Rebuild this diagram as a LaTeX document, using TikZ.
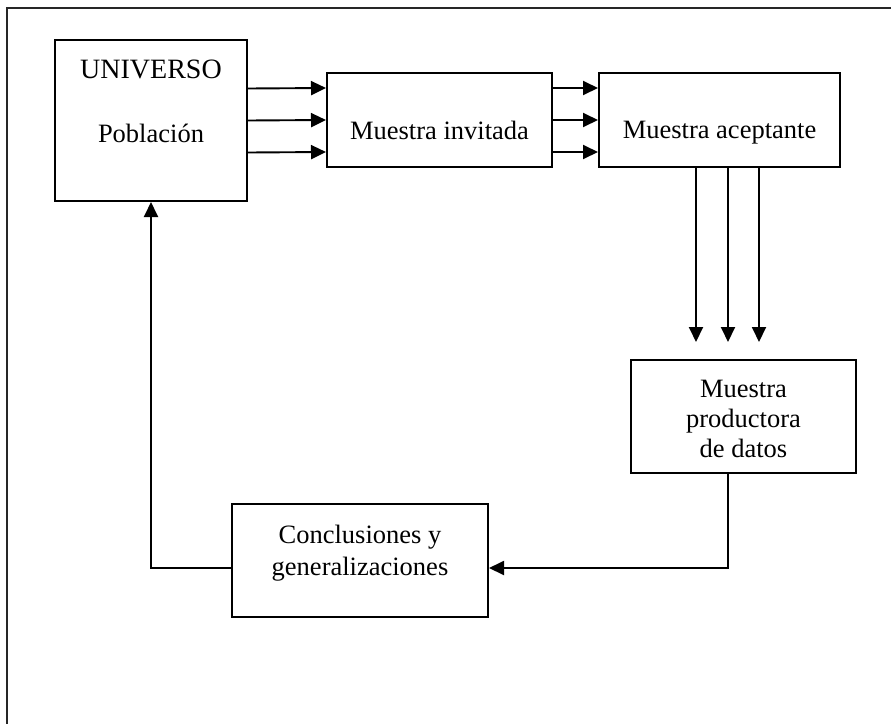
\documentclass[tikz,border=0pt]{standalone}
\usepackage{fontspec}
\setmainfont{Liberation Serif}
\usetikzlibrary{arrows.meta}

\tikzset{
  box/.style={draw=black, line width=2pt, rectangle, inner sep=0pt},
  txt/.style={anchor=base, inner sep=0pt, font=\fontsize{26.5}{30.5}\selectfont},
  arr/.style={draw=black, line width=1.9pt, -{Triangle[length=15pt,width=14pt]}},
  frame/.style={draw=black!85, line width=2.4pt}
}

\begin{document}
\begin{tikzpicture}[x=1pt, y=-1pt]
  % page area
  \clip (0,0) rectangle (891,723);
  \draw[frame] (7,8) rectangle (900,740);

  % boxes
  \node[box, minimum width=192pt, minimum height=161pt] (u)    at (151,120.5) {};
  \node[box, minimum width=225pt, minimum height=94pt]  (inv)  at (439.5,120) {};
  \node[box, minimum width=241pt, minimum height=94pt]  (acc)  at (719.5,120) {};
  \node[box, minimum width=225pt, minimum height=113pt] (prod) at (743.5,416.5) {};
  \node[box, minimum width=256pt, minimum height=113pt] (conc) at (360,560.5) {};

  % texts
  \node[txt, font=\fontsize{28}{32}\selectfont] (t1) at (151,78)  {UNIVERSO};
  \node[txt] (t2) at (151,142) {Población};
  \node[txt] (t3) at (439.5,139) {Muestra invitada};
  \node[txt] (t4) at (719.5,138) {Muestra aceptante};
  \node[txt] (t5) at (743.5,397) {Muestra};
  \node[txt] (t6) at (743.5,427) {productora};
  \node[txt] (t7) at (743.5,457) {de datos};
  \node[txt] (t8) at (360,543) {Conclusiones y};
  \node[txt] (t9) at (360,575) {generalizaciones};

  % parallel flows between the upper boxes
  \foreach \d in {-32,0,32} {
    \draw[arr] ([yshift=\d pt]u.east) -- ([yshift=\d pt]inv.west);
    \draw[arr] ([yshift=\d pt]inv.east) -- ([yshift=\d pt]acc.west);
  }

  % downward flows
  \foreach \x in {696,728,759} {
    \draw[arr] (acc.south -| \x,0) -- ([yshift=17pt]prod.north -| \x,0);
  }

  % feedback loop
  \draw[arr] (prod.south -| 728,0) |- ([yshift=-7.5pt]conc.east);
  \draw[arr] ([yshift=-7.5pt]conc.west) -| (u.south);
\end{tikzpicture}
\end{document}
